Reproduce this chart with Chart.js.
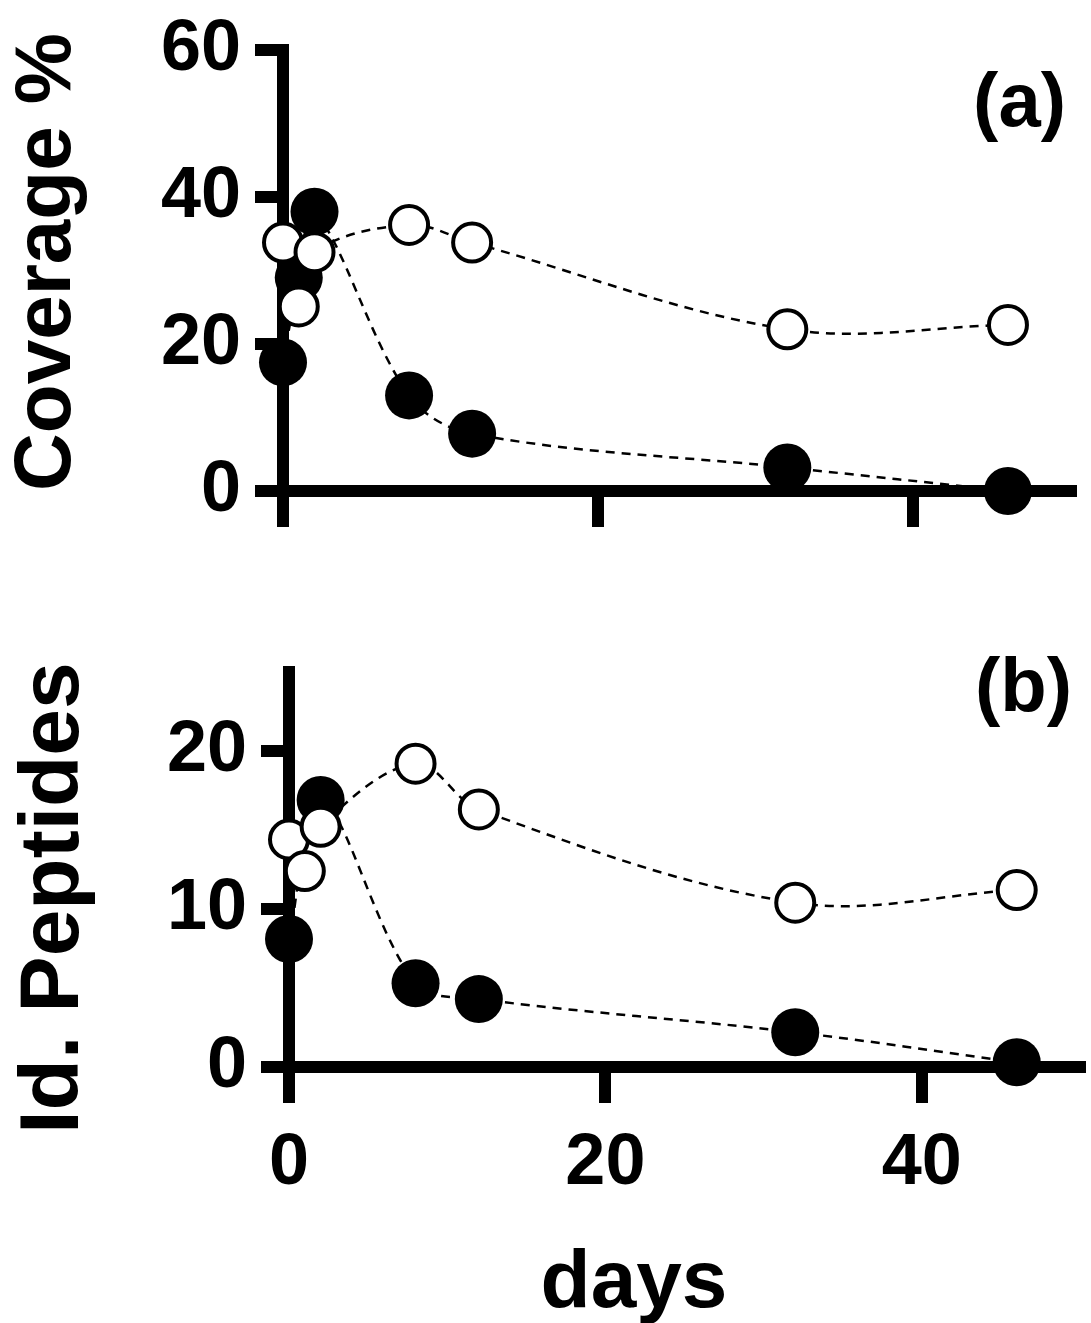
<!DOCTYPE html>
<html>
<head>
<meta charset="utf-8">
<script src="https://cdn.jsdelivr.net/npm/chart.js@4.4.1/dist/chart.umd.min.js"></script>
<style>
  html, body { margin: 0; padding: 0; background: #fff; }
  #wrap { position: relative; width: 1091px; height: 1323px; }
  .box { position: absolute; left: 0; width: 1091px; }
  #boxA { top: 0; height: 560px; }
  #boxB { top: 560px; height: 763px; }
</style>
</head>
<body>
<div id="wrap">
  <div class="box" id="boxA"><canvas id="chartA"></canvas></div>
  <div class="box" id="boxB"><canvas id="chartB"></canvas></div>
</div>
<script>
var days = [0, 1, 2, 8, 12, 32, 46];
var coverageFilled = [17.5, 29, 38, 13, 7.8, 3.2, 0];
var coverageOpen = [33.8, 25.1, 32.5, 36.2, 33.8, 22, 22.6];
var peptidesFilled = [8.1, null, 16.9, 5.3, 4.3, 2.2, 0.3];
var peptidesOpen = [14.4, 12.4, 15.2, 19.2, 16.3, 10.4, 11.2];

var xTicks = [0, 20, 40];
var coverageTicks = [0, 20, 40, 60];
var peptideTicks = [0, 10, 20];

var FONT = "'Liberation Sans', Arial, Helvetica, sans-serif";

function pts(ys) {
  var out = [];
  for (var i = 0; i < days.length; i++) {
    out.push({ x: days[i], y: ys[i] });
  }
  return out;
}

function makeTicks(list) {
  return function(scale) {
    scale.ticks = list.map(function(v) { return { value: v }; });
  };
}

// axis titles and the panel letter, placed by hand like in the figure
var panelText = {
  id: "panelText",
  afterDraw: function(chart, args, opts) {
    var ctx = chart.ctx;
    var area = chart.chartArea;
    ctx.save();
    ctx.fillStyle = "#000";

    ctx.font = "bold 76px " + FONT;
    ctx.textAlign = "right";
    ctx.textBaseline = "middle";
    ctx.fillText(opts.label, area.right - opts.labelDx, area.top + opts.labelDy);

    ctx.save();
    ctx.translate(opts.yTitleX, opts.yTitleY);
    ctx.rotate(-Math.PI / 2);
    ctx.font = "bold " + opts.yTitleSize + "px " + FONT;
    ctx.textAlign = "center";
    ctx.textBaseline = "middle";
    ctx.fillText(opts.yTitle, 0, 0);
    ctx.restore();

    if (opts.xTitle) {
      ctx.font = "bold 82px " + FONT;
      ctx.textAlign = "center";
      ctx.textBaseline = "alphabetic";
      ctx.fillText(opts.xTitle, opts.xTitleX, opts.xTitleY);
    }
    ctx.restore();
  }
};

function datasets(filled, open) {
  var line = {
    showLine: true,
    borderColor: "#000",
    borderWidth: 2.5,
    borderDash: [9, 7],
    tension: 0.35,
    pointRadius: 0,
    spanGaps: true,
    clip: false
  };
  return [
    {
      data: pts(open),
      showLine: false,
      pointRadius: 19,
      pointBorderWidth: 4,
      pointBackgroundColor: "#fff",
      pointBorderColor: "#000",
      clip: false
    },
    {
      data: pts(filled),
      showLine: false,
      pointRadius: 24,
      pointBorderWidth: 0,
      pointBackgroundColor: "#000",
      pointBorderColor: "#000",
      clip: false
    },
    Object.assign({ data: pts(open) }, line),
    Object.assign({ data: pts(filled) }, line)
  ];
}

function makeChart(id, cfg) {
  var ctx = document.getElementById(id).getContext("2d");
  return new Chart(ctx, {
    type: "scatter",
    data: { datasets: datasets(cfg.filled, cfg.open) },
    options: {
      responsive: true,
      maintainAspectRatio: false,
      animation: false,
      events: [],
      layout: {
        autoPadding: false,
        padding: { top: cfg.top, right: cfg.right, left: 0, bottom: 0 }
      },
      plugins: {
        legend: { display: false },
        tooltip: { enabled: false },
        panelText: cfg.text
      },
      scales: {
        x: {
          type: "linear",
          min: 0,
          max: 50,
          afterBuildTicks: makeTicks(xTicks),
          afterFit: function(s) { s.height = cfg.xHeight; },
          grid: { drawOnChartArea: false, drawTicks: true, tickLength: 36, lineWidth: 12, color: "#000" },
          border: { display: true, width: 12, color: "#000" },
          ticks: {
            display: cfg.xLabels,
            color: "#000",
            padding: 25,
            maxRotation: 0,
            font: { family: FONT, size: 72, weight: "bold", lineHeight: 1 }
          }
        },
        y: {
          type: "linear",
          min: 0,
          max: cfg.yMax,
          afterBuildTicks: makeTicks(cfg.yTicks),
          afterFit: function(s) { s.width = cfg.yWidth; },
          grid: { drawOnChartArea: false, drawTicks: true, tickLength: 28, lineWidth: 12, color: "#000" },
          border: { display: true, width: 12, color: "#000" },
          ticks: {
            color: "#000",
            padding: 14,
            font: { family: FONT, size: 72, weight: "bold", lineHeight: 1 }
          }
        }
      }
    },
    plugins: [panelText]
  });
}

makeChart("chartA", {
  filled: coverageFilled,
  open: coverageOpen,
  yMax: 60,
  yTicks: coverageTicks,
  top: 42,
  right: 20,
  yWidth: 283,
  xHeight: 69,
  xLabels: false,
  text: {
    label: "(a)", labelDx: 5, labelDy: 55,
    yTitle: "Coverage %", yTitleSize: 80, yTitleX: 48, yTitleY: 262
  }
});

makeChart("chartB", {
  filled: peptidesFilled,
  open: peptidesOpen,
  yMax: 25,
  yTicks: peptideTicks,
  top: 112,
  right: 11,
  yWidth: 289,
  xHeight: 256,
  xLabels: true,
  text: {
    label: "(b)", labelDx: 8, labelDy: 18,
    yTitle: "Id. Peptides", yTitleSize: 84, yTitleX: 55, yTitleY: 338,
    xTitle: "days", xTitleX: 634, xTitleY: 747
  }
});
</script>
</body>
</html>
